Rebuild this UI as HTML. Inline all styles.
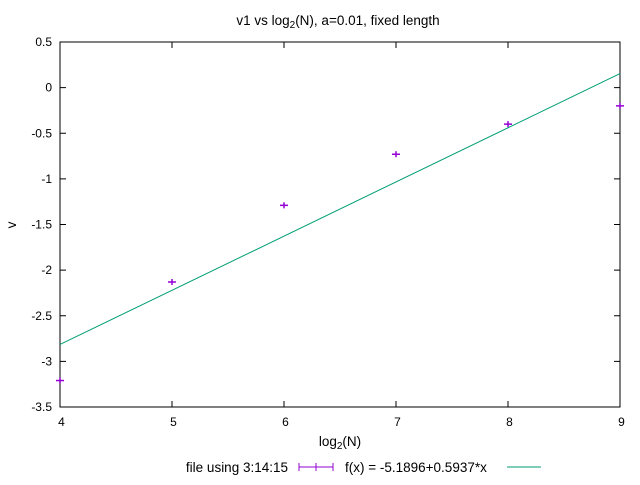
<!DOCTYPE html>
<html><head><meta charset="utf-8"><style>
body{margin:0;background:#fff;}
svg{font-family:"Liberation Sans",sans-serif;font-size:12px;}
.big{font-size:13.5px;}
</style></head><body>
<svg id="c" width="640" height="480">
<text class="big" x="338" y="25" text-anchor="middle">v1 vs log<tspan font-size="10" dy="3">2</tspan><tspan dy="-3">(N), a=0.01, fixed length</tspan></text>
<text class="big" x="340" y="446" text-anchor="middle">log<tspan font-size="10" dy="3">2</tspan><tspan dy="-3">(N)</tspan></text>
<text class="big" x="16" y="225" text-anchor="middle" transform="rotate(-90 16 225)">v</text>
<g id="axes"></g>
<g id="marks"></g>
<text class="big" x="288" y="472" text-anchor="end">file using 3:14:15</text>
<g stroke="#9400d3" stroke-width="1">
<line x1="299" y1="467" x2="333" y2="467"/><line x1="299" y1="463" x2="299" y2="471"/><line x1="333" y1="463" x2="333" y2="471"/><line x1="316" y1="463" x2="316" y2="471"/></g>
<text class="big" x="345" y="472">f(x) = -5.1896+0.5937*x</text>
<line x1="507" y1="467" x2="541" y2="467" stroke="#009e73"/>
</svg>
<script>
const xs=[4,5,6,7,8,9];
const ys=[-3.21,-2.13,-1.29,-0.73,-0.40,-0.20];
const yErr=[0.02,0.02,0.02,0.02,0.02,0.02];
const xTicks=[4,5,6,7,8,9];
const yTicks=[0.5,0,-0.5,-1,-1.5,-2,-2.5,-3,-3.5];
const fitA=-5.1896, fitB=0.5937;
const L=60,R=620,T=42,B=407;
const X=v=>L+(v-4)/5*(R-L);
const Y=v=>T+(0.5-v)/4*(B-T);
const NS="http://www.w3.org/2000/svg";
function mk(t,a,p){const e=document.createElementNS(NS,t);for(const k in a)e.setAttribute(k,a[k]);p.appendChild(e);return e;}
const ax=document.getElementById('axes'),mg=document.getElementById('marks');
const fr=mk('rect',{x:L,y:T,width:R-L,height:B-T,fill:'none',stroke:'#000'},ax);


xTicks.forEach(v=>{const x=X(v);
mk('line',{x1:x,y1:B,x2:x,y2:B-6,stroke:'#000'},ax);mk('line',{x1:x,y1:T,x2:x,y2:T+6,stroke:'#000'},ax);
const t=mk('text',{x:x+1.5,y:B+19,'text-anchor':'middle'},ax);t.textContent=v;

});
yTicks.forEach(v=>{const y=Y(v);
mk('line',{x1:L,y1:y,x2:L+6,y2:y,stroke:'#000'},ax);mk('line',{x1:R,y1:y,x2:R-6,y2:y,stroke:'#000'},ax);
const t=mk('text',{x:L-8,y:y+4,'text-anchor':'end'},ax);t.textContent=v;

});
const fl=mk('line',{x1:X(4),y1:Y(fitA+fitB*4),x2:X(9),y2:Y(fitA+fitB*9),stroke:'#009e73'},mg);


xs.forEach((v,i)=>{const x=X(v),y=Y(ys[i]);
const g=mk('g',{stroke:'#9400d3','stroke-width':1.5},mg);


mk('line',{x1:x-4,y1:y,x2:x+4,y2:y},g);
mk('line',{x1:x,y1:Math.min(Y(ys[i]+yErr[i]),y-3),x2:x,y2:Math.max(Y(ys[i]-yErr[i]),y+3)},g);});
</script>
</body></html>
